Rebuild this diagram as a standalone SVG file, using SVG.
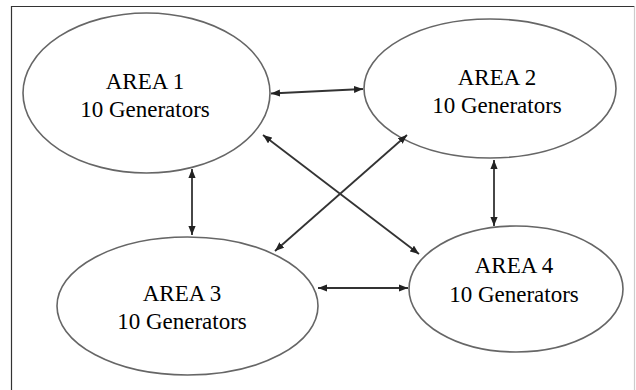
<svg xmlns="http://www.w3.org/2000/svg" width="636" height="390" viewBox="0 0 636 390">
<style>
.node ellipse{fill:#fff;stroke:#666;stroke-width:1.6}
.node text{font-family:'Liberation Serif','Times New Roman','DejaVu Serif',serif;font-size:23px;fill:#000;text-anchor:middle}
.conn line{stroke:#333;stroke-width:1.8;marker-start:url(#ah);marker-end:url(#ah)}
</style>
<defs>
<marker id="ah" viewBox="0 0 10 8" refX="10" refY="4" markerWidth="5" markerHeight="4" orient="auto-start-reverse" markerUnits="strokeWidth">
<path d="M0,0 L10,4 L0,8 z" fill="#222"/>
</marker>
</defs>
<rect x="0" y="0" width="636" height="390" fill="#fff"/>
<path d="M11.5,390 V6.5 H634.5" fill="none" stroke="#333" stroke-width="1.2"/>
<path d="M634.5,6.5 V390" fill="none" stroke="#ccc" stroke-width="1.2"/>
<g id="area1" class="node">
<ellipse cx="146.5" cy="93" rx="123.5" ry="80"/>
<text x="145" y="89" font-family="Liberation Serif, serif">AREA 1</text>
<text x="145" y="117" font-family="Liberation Serif, serif">10 Generators</text>
</g>
<g id="area2" class="node">
<ellipse cx="490" cy="88.5" rx="126" ry="69.5"/>
<text x="497" y="85" font-family="Liberation Serif, serif">AREA 2</text>
<text x="497" y="113" font-family="Liberation Serif, serif">10 Generators</text>
</g>
<g id="area3" class="node">
<ellipse cx="187.5" cy="306" rx="130.5" ry="69"/>
<text x="182" y="301" font-family="Liberation Serif, serif">AREA 3</text>
<text x="182" y="329" font-family="Liberation Serif, serif">10 Generators</text>
</g>
<g id="area4" class="node">
<ellipse cx="516" cy="289" rx="107" ry="63"/>
<text x="514" y="273" font-family="Liberation Serif, serif">AREA 4</text>
<text x="514" y="302" font-family="Liberation Serif, serif">10 Generators</text>
</g>
<g id="connectors" class="conn">
<line x1="271" y1="93.5" x2="363" y2="89"/>
<line x1="263" y1="135" x2="419" y2="254"/>
<line x1="407" y1="135" x2="275" y2="251"/>
<line x1="494" y1="160" x2="494" y2="226"/>
<line x1="192" y1="169" x2="192" y2="235"/>
<line x1="318" y1="288" x2="408" y2="288"/>
</g>
</svg>
